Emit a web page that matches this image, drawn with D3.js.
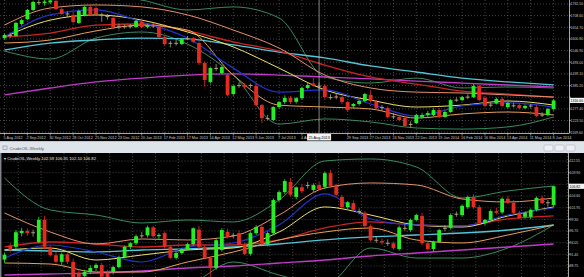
<!DOCTYPE html>
<html>
<head>
<meta charset="utf-8">
<script src="https://cdnjs.cloudflare.com/ajax/libs/d3/7.8.5/d3.min.js"></script>
<style>
  body { margin: 0; background: #000; }
  svg { display: block; font-family: "Liberation Sans", Arial, sans-serif; }
</style>
</head>
<body>
<div id="chart"></div>
<script>
// weekly bars, 5 Aug 2012 .. 8 Jun 2014 (97 bars), date labels every 4 bars
const dateLabels = ["5 Aug 2012", "2 Sep 2012", "30 Sep 2012", "28 Oct 2012", "25 Nov 2012", "23 Dec 2012",
  "20 Jan 2013", "17 Feb 2013", "17 Mar 2013", "14 Apr 2013", "12 May 2013", "9 Jun 2013", "7 Jul 2013",
  "4 Aug 2013", "1 Sep 2013", "29 Sep 2013", "27 Oct 2013", "24 Nov 2013", "22 Dec 2013", "19 Jan 2014",
  "16 Feb 2014", "16 Mar 2014", "13 Apr 2014", "11 May 2014", "8 Jun 2014"];
const crossIndex = 55;
const crossLabel = "25 Aug 2013";

// gold weekly [open, high, low, close]
const goldBars = [
  [1605,1626,1598,1619],[1619,1630,1605,1615],[1615,1680,1610,1675],[1670,1695,1662,1688],[1693,1740,1688,1735],
  [1735,1778,1730,1772],[1771,1780,1758,1767],[1767,1782,1755,1774],[1770,1786,1762,1779],[1777,1785,1735,1739],
  [1739,1748,1712,1716],[1716,1728,1702,1719],[1712,1722,1672,1679],[1675,1737,1670,1730],[1712,1755,1705,1749],
  [1749,1755,1706,1712],[1744,1750,1710,1716],[1714,1722,1680,1710],[1707,1716,1690,1705],[1698,1705,1650,1656],
  [1658,1672,1645,1662],[1660,1668,1648,1656],[1656,1670,1650,1660],[1656,1690,1652,1684],[1680,1690,1650,1656],
  [1656,1672,1650,1665],[1663,1675,1652,1660],[1656,1662,1605,1610],[1610,1615,1570,1577],[1580,1592,1562,1583],
  [1583,1598,1570,1580],[1577,1606,1572,1600],[1603,1615,1595,1605],[1605,1610,1580,1587],[1582,1590,1480,1490],
  [1490,1495,1380,1411],[1402,1470,1395,1467],[1467,1485,1452,1462],[1443,1480,1438,1471],[1434,1440,1335,1342],
  [1346,1390,1338,1383],[1385,1400,1375,1388],[1388,1398,1370,1379],[1385,1395,1372,1388],[1383,1392,1290,1295],
  [1295,1300,1212,1235],[1235,1250,1225,1232],[1226,1290,1220,1286],[1286,1314,1280,1309],[1309,1340,1300,1328],
  [1328,1337,1300,1309],[1310,1332,1302,1327],[1327,1380,1320,1374],[1374,1400,1368,1388],[1395,1420,1380,1385],
  [1385,1400,1368,1383],[1383,1390,1325,1332],[1332,1345,1320,1330],[1330,1348,1322,1335],[1332,1340,1300,1309],
  [1309,1315,1265,1272],[1290,1305,1278,1300],[1300,1320,1292,1314],[1314,1352,1308,1346],[1342,1361,1308,1314],
  [1309,1318,1275,1281],[1283,1295,1270,1286],[1281,1290,1232,1240],[1240,1258,1230,1243],[1240,1250,1220,1226],
  [1235,1240,1196,1198],[1203,1220,1190,1208],[1212,1255,1208,1249],[1240,1260,1232,1249],[1249,1268,1240,1258],
  [1249,1280,1244,1272],[1272,1278,1236,1240],[1240,1270,1236,1263],[1263,1324,1258,1318],[1318,1330,1310,1320],
  [1318,1338,1313,1332],[1332,1345,1322,1334],[1332,1392,1328,1383],[1383,1390,1312,1318],[1328,1335,1285,1291],
  [1293,1308,1285,1297],[1303,1330,1298,1323],[1323,1332,1285,1291],[1286,1312,1280,1305],[1294,1306,1284,1291],
  [1295,1302,1275,1281],[1281,1298,1276,1291],[1291,1300,1282,1293],[1286,1295,1240,1245],[1247,1262,1240,1251],
  [1249,1282,1243,1277],[1277,1322,1270,1316.6]
];

// crude oil weekly [open, high, low, close]
const oilBars = [
  [90.2,91.8,89.5,91.3],[93.3,94.0,91.8,92.4],[93.1,96.9,92.6,96.4],[96.2,97.4,95.5,96.7],[96.7,97.3,95.6,96.2],
  [96.3,97.0,95.4,96.4],[94.2,99.9,93.8,99.2],[99.2,100.1,92.5,93.1],[92.8,93.4,90.9,91.2],[91.2,92.0,89.3,89.7],
  [89.7,91.8,89.0,91.4],[91.4,92.0,89.2,89.7],[89.7,90.4,85.6,86.2],[87.2,87.9,85.2,86.3],[86.5,87.9,85.8,87.4],
  [87.4,88.9,87.0,88.3],[88.3,89.4,87.6,89.0],[89.0,89.5,85.8,86.3],[87.2,87.9,85.4,86.3],[87.4,88.8,86.8,88.5],
  [88.5,91.1,88.2,90.8],[90.8,93.4,90.5,93.1],[93.1,94.2,92.6,93.9],[93.9,95.9,93.5,95.5],[95.5,96.5,95.0,95.7],
  [95.7,97.9,95.2,97.5],[97.5,97.9,95.1,95.5],[95.5,96.2,94.9,95.8],[96.2,96.6,92.7,93.1],[93.1,93.5,90.3,90.6],
  [90.6,92.0,90.2,91.7],[91.7,92.9,91.4,92.6],[92.6,94.0,92.2,93.7],[93.7,97.5,93.3,97.3],[97.0,97.8,92.6,93.1],
  [93.1,93.6,90.3,90.6],[90.6,91.0,86.3,88.3],[88.3,95.0,87.9,94.6],[92.4,97.3,92.0,96.9],[96.5,97.2,95.0,95.3],
  [95.6,96.3,95.0,95.8],[96.2,96.8,93.2,93.5],[93.5,94.0,91.2,91.5],[91.5,96.6,91.1,96.2],[96.2,98.0,95.8,97.6],
  [97.6,98.3,93.5,93.9],[93.7,96.6,93.2,96.2],[96.2,104.1,95.7,103.7],[103.7,105.9,103.2,105.5],[105.5,108.4,105.0,108.0],
  [107.8,108.7,104.5,104.9],[104.4,106.8,103.9,106.6],[106.6,107.3,105.2,105.7],[107.0,107.8,106.3,107.1],[106.0,107.5,105.5,107.1],
  [107.1,107.9,105.8,106.2],[106.7,110.2,106.2,109.8],[109.8,110.5,106.5,106.9],[106.9,107.4,104.5,104.9],[104.4,104.9,101.8,102.1],
  [102.1,103.5,101.6,103.2],[103.0,103.6,101.2,101.5],[101.2,101.8,100.5,101.0],[100.8,101.2,97.5,97.8],[97.8,98.2,94.3,94.6],
  [94.6,95.4,94.0,94.7],[94.4,95.0,93.6,94.1],[94.0,94.8,93.3,93.9],[93.9,94.3,92.4,92.8],[92.6,97.9,92.2,97.5],
  [97.4,98.2,96.7,97.2],[96.9,99.5,96.5,99.2],[99.2,100.6,98.9,100.3],[100.1,100.8,93.4,93.9],[93.9,94.3,92.3,92.6],
  [92.6,94.5,92.0,94.2],[94.2,97.2,93.9,96.9],[97.2,98.0,96.6,97.4],[97.4,100.7,97.0,100.3],[100.4,101.1,99.9,100.6],
  [100.3,102.7,99.9,102.4],[102.1,104.7,101.7,104.4],[104.4,105.0,101.7,102.1],[102.1,102.6,98.4,98.5],[98.5,99.4,97.9,99.2],
  [99.2,101.6,98.8,101.2],[101.2,101.9,100.4,100.8],[100.9,104.3,100.5,104.0],[104.0,104.6,102.8,103.1],[103.1,103.7,100.5,100.8],
  [100.8,101.3,99.4,99.6],[99.9,101.0,99.5,100.8],[99.9,101.8,99.4,101.5],[101.5,104.5,101.1,104.2],[104.2,104.7,102.8,103.0],
  [103.0,103.7,102.2,103.2],[102.59,106.91,102.10,106.82]
];

// indicator lines, read every 8 bars
const sampleIdx = [0, 8, 16, 24, 32, 40, 48, 56, 64, 72, 80, 88, 96];

const goldBBUp    = [1874, 1850, 1818, 1781, 1735, 1749, 1698, 1425, 1397, 1420, 1374, 1379, 1374];
const goldBBLo    = [1545, 1508, 1605, 1633, 1577, 1434, 1207, 1231, 1217, 1189, 1184, 1194, 1240];
const goldOrangeU = [1665, 1744, 1758, 1749, 1712, 1642, 1559, 1434, 1374, 1355, 1351, 1342, 1332];
const goldYellow  = [1610, 1688, 1712, 1688, 1633, 1564, 1466, 1365, 1318, 1286, 1295, 1314, 1295];
const goldBlue    = [1610, 1712, 1735, 1679, 1605, 1466, 1355, 1365, 1300, 1244, 1291, 1305, 1286];
const goldRed     = [1610, 1628, 1665, 1670, 1638, 1587, 1545, 1480, 1425, 1392, 1360, 1346, 1332];
const goldCyan    = [1550, 1582, 1596, 1605, 1601, 1573, 1540, 1513, 1476, 1448, 1420, 1402, 1388];
const goldMagenta = [1342, 1374, 1402, 1420, 1434, 1439, 1434, 1425, 1416, 1406, 1397, 1388, 1379];
const goldOrangeL = [1582, 1596, 1638, 1665, 1642, 1434, 1295, 1286, 1277, 1235, 1254, 1263, 1249];

const oilBBUp    = [108.70, 101.45, 100.31, 98.50, 99.18, 98.73, 103.72, 112.56, 113.01, 111.20, 104.17, 105.76, 106.89];
const oilBBLo    = [83.31, 84.44, 83.31, 83.31, 84.44, 89.66, 86.71, 84.44, 92.83, 90.56, 90.56, 92.83, 98.05];
const oilOrangeU = [100.77, 96.46, 93.74, 94.87, 94.65, 95.55, 100.31, 106.44, 107.57, 107.12, 103.94, 103.26, 104.17];
const oilYellow  = [92.38, 92.83, 90.11, 91.24, 92.38, 92.83, 96.46, 102.13, 100.31, 98.05, 97.59, 100.09, 102.13];
const oilBlue    = [90.56, 93.51, 91.92, 89.66, 93.06, 93.97, 98.05, 105.08, 99.41, 98.05, 97.82, 100.31, 101.90];
const oilRed     = [93.06, 94.19, 93.74, 93.06, 93.51, 93.51, 94.65, 97.37, 98.73, 98.05, 97.82, 99.41, 100.09];
const oilCyan    = [92.38, 92.15, 91.92, 92.38, 92.61, 93.06, 93.74, 94.65, 95.33, 95.78, 96.23, 96.91, 98.05];
const oilMagenta = [86.71, 86.94, 87.16, 87.62, 88.30, 88.75, 89.43, 90.11, 91.02, 91.70, 92.38, 93.06, 93.74];
const oilOrangeL = [89.43, 89.20, 87.39, 87.39, 89.66, 91.92, 94.65, 96.46, 97.37, 94.65, 93.97, 95.78, 98.05];

const goldTicks = ["1762.50", "1708.60", "1654.70", "1600.80", "1546.90", "1493.00", "1439.10",
  "1385.20", "1331.30", "1277.40", "1223.50", "1169.60"];
const oilTicks = ["112.55", "109.90", "107.25", "104.60", "101.95", "99.30", "96.70", "94.05", "91.40", "88.75"];

const W = 584, H = 277;
const svg = d3.select("#chart").append("svg").attr("width", W).attr("height", H);

const x = d3.scaleLinear().domain([0, 96]).range([4.5, 553.6]);

const lineStyles = [
  { key: "bbUp", color: "#3f9a6a", w: 0.9 },
  { key: "bbLo", color: "#3f9a6a", w: 0.9 },
  { key: "magenta", color: "#c13ac8", w: 1.3 },
  { key: "cyan", color: "#52c6d6", w: 1.3 },
  { key: "red", color: "#c82424", w: 1.3 },
  { key: "orangeU", color: "#e8906a", w: 1 },
  { key: "orangeL", color: "#eba055", w: 1 },
  { key: "yellow", color: "#f0e06a", w: 1 },
  { key: "blue", color: "#2233d0", w: 1.2 }
];

function drawPanel(opt) {
  const g = svg.append("g");
  const y = d3.scaleLinear().domain(opt.domain).range(opt.range);

  g.append("rect").attr("x", opt.left).attr("y", opt.top).attr("width", W - opt.left)
    .attr("height", opt.bottom - opt.top).attr("fill", "#000");

  const clipId = "clip" + opt.name;
  svg.append("clipPath").attr("id", clipId).append("rect")
    .attr("x", opt.left).attr("y", opt.top).attr("width", opt.right - opt.left).attr("height", opt.plotBottom - opt.top);

  const plot = g.append("g").attr("clip-path", `url(#${clipId})`);

  // grid
  opt.ticks.forEach(t => {
    plot.append("line").attr("x1", opt.left).attr("x2", opt.right)
      .attr("y1", y(+t)).attr("y2", y(+t))
      .attr("stroke", "#707070").attr("stroke-width", 0.6).attr("stroke-dasharray", "1,2");
  });
  d3.range(opt.gridStart, 100, 4).forEach(i => {
    plot.append("line").attr("x1", x(i)).attr("x2", x(i))
      .attr("y1", opt.top).attr("y2", opt.plotBottom)
      .attr("stroke", "#707070").attr("stroke-width", 0.6).attr("stroke-dasharray", "1,2");
  });

  // indicator lines
  const line = d3.line().x(d => x(d[0])).y(d => y(d[1])).curve(d3.curveMonotoneX);
  lineStyles.forEach(s => {
    const vals = opt.lines[s.key];
    plot.append("path").datum(sampleIdx.map((i, k) => [i, vals[k]]))
      .attr("fill", "none").attr("stroke", s.color).attr("stroke-width", s.w).attr("d", line);
  });

  // candles
  const colorOf = d => {
    const hgt = Math.abs(y(d[0]) - y(d[3]));
    if (hgt < 1.3) return "#a8a27a";
    return d[3] >= d[0] ? "#22f022" : "#e42b1f";
  };
  const c = plot.selectAll(".bar").data(opt.bars).enter().append("g");
  c.append("line")
    .attr("x1", (d, i) => x(i)).attr("x2", (d, i) => x(i))
    .attr("y1", d => y(d[1])).attr("y2", d => y(d[2]))
    .attr("stroke", colorOf).attr("stroke-width", 0.8);
  c.append("rect")
    .attr("x", (d, i) => x(i) - 1.9).attr("width", 3.8)
    .attr("y", d => y(Math.max(d[0], d[3])))
    .attr("height", d => Math.max(1, Math.abs(y(d[0]) - y(d[3]))))
    .attr("fill", colorOf);

  // right price axis
  const last = opt.bars[opt.bars.length - 1][3];
  g.append("line").attr("x1", opt.right + 0.5).attr("x2", opt.right + 0.5)
    .attr("y1", opt.top).attr("y2", opt.plotBottom).attr("stroke", "#d0d0d0").attr("stroke-width", 0.8);
  opt.ticks.forEach(t => {
    g.append("line").attr("x1", opt.right).attr("x2", opt.right + 2)
      .attr("y1", y(+t)).attr("y2", y(+t)).attr("stroke", "#d0d0d0").attr("stroke-width", 0.6);
    // the current price box hides the tick label under it
    if (Math.abs(y(+t) - y(last)) < 5) return;
    g.append("text").attr("x", opt.right + 1.5).attr("y", y(+t) + 1.3)
      .attr("font-size", 3.5).attr("fill", "#c8c8c8").text(t);
  });

  // current price box
  g.append("rect").attr("x", opt.right + 1).attr("y", y(last) - 2.6).attr("width", W - opt.right)
    .attr("height", 5.2).attr("fill", "#f4f4f4");
  g.append("text").attr("x", opt.right + 1.5).attr("y", y(last) + 1.3)
    .attr("font-size", 3.5).attr("fill", "#000").text(last.toFixed(opt.digits));

  return { g, y };
}

// ---- top panel: gold
const goldPanel = drawPanel({
  name: "gold", left: 0, right: 569, top: 0, plotBottom: 133, bottom: 141,
  domain: [1169.6, 1762.5], range: [132.2, 4], ticks: goldTicks, gridStart: 0, digits: 2,
  bars: goldBars,
  lines: { bbUp: goldBBUp, bbLo: goldBBLo, orangeU: goldOrangeU, yellow: goldYellow, blue: goldBlue,
    red: goldRed, cyan: goldCyan, magenta: goldMagenta, orangeL: goldOrangeL }
});
goldPanel.g.append("line").attr("x1", 0).attr("x2", 569.5).attr("y1", 133.5).attr("y2", 133.5)
  .attr("stroke", "#d0d0d0").attr("stroke-width", 0.8);
const crossX = x(crossIndex);
dateLabels.forEach((t, k) => {
  const i = k * 4;
  goldPanel.g.append("line").attr("x1", x(i)).attr("x2", x(i)).attr("y1", 133.5).attr("y2", 135.5)
    .attr("stroke", "#d0d0d0").attr("stroke-width", 0.6);
  // label hidden under the crosshair date box
  if (x(i) > crossX - 14 && x(i) < crossX + 14) return;
  goldPanel.g.append("text").attr("x", x(i) - 1).attr("y", 139).attr("font-size", 3.8)
    .attr("fill", "#c8c8c8").text(t);
});
// crosshair
goldPanel.g.append("line").attr("x1", crossX).attr("x2", crossX).attr("y1", 0).attr("y2", 133)
  .attr("stroke", "#bdbdbd").attr("stroke-width", 0.7);
goldPanel.g.append("rect").attr("x", crossX - 12).attr("y", 134).attr("width", 24).attr("height", 6.5)
  .attr("fill", "#f4f4f4");
goldPanel.g.append("text").attr("x", crossX).attr("y", 139).attr("text-anchor", "middle")
  .attr("font-size", 3.8).attr("fill", "#000").text(crossLabel);

// ---- window title strip
svg.append("rect").attr("x", 0).attr("y", 141).attr("width", W).attr("height", 12).attr("fill", "#dfe4ea");
svg.append("line").attr("x1", 0).attr("x2", W).attr("y1", 141.5).attr("y2", 141.5).attr("stroke", "#b8bec6").attr("stroke-width", 0.8);
svg.append("rect").attr("x", 3).attr("y", 146).attr("width", 4).attr("height", 3.5)
  .attr("fill", "none").attr("stroke", "#7a8a9a").attr("stroke-width", 0.6);
svg.append("text").attr("x", 9.5).attr("y", 149.6).attr("font-size", 4.4).attr("fill", "#555").text("CrudeOIL,Weekly");
[544, 555, 566].forEach(bx => {
  svg.append("rect").attr("x", bx).attr("y", 145).attr("width", 9).attr("height", 6).attr("rx", 1)
    .attr("fill", "#eef1f4").attr("stroke", "#a0a8b2").attr("stroke-width", 0.5);
});

// ---- bottom panel: crude oil
const oilPanel = drawPanel({
  name: "oil", left: 1.5, right: 568, top: 153, plotBottom: 277, bottom: 277,
  domain: [88.75, 112.55], range: [266, 161], ticks: oilTicks, gridStart: 2.4, digits: 2,
  bars: oilBars,
  lines: { bbUp: oilBBUp, bbLo: oilBBLo, orangeU: oilOrangeU, yellow: oilYellow, blue: oilBlue,
    red: oilRed, cyan: oilCyan, magenta: oilMagenta, orangeL: oilOrangeL }
});
svg.append("line").attr("x1", 0.8).attr("x2", 0.8).attr("y1", 153).attr("y2", H).attr("stroke", "#b8bec6").attr("stroke-width", 1);
const lb = oilBars[oilBars.length - 1];
oilPanel.g.append("text").attr("x", 4).attr("y", 159.5).attr("font-size", 4.2).attr("fill", "#e8e8e8")
  .text("\u25BE CrudeOIL,Weekly  " + lb.map(v => v.toFixed(2)).join(" "));
</script>
</body>
</html>
